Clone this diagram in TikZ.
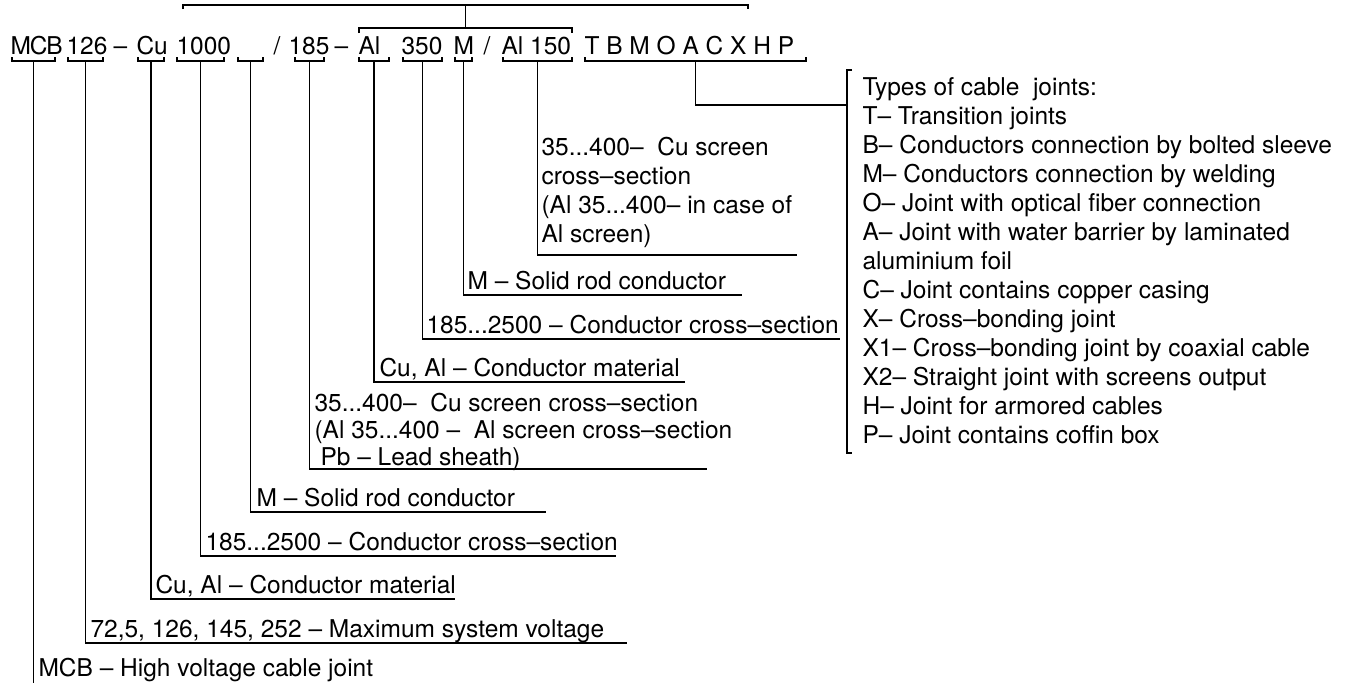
\documentclass[tikz,border=0pt]{standalone}
\usepackage{fontspec}
\setmainfont{TeX Gyre Heros}
\usepackage{tikz}

\begin{document}
\begin{tikzpicture}[x=1pt, y=-1pt, line width=1.1pt,
    every node/.style={inner sep=0pt, anchor=base west},
    txt/.style={font=\fontsize{24.5}{29}\selectfont}]
  \useasboundingbox (0,0) rectangle (1348,683);

  % the code line
  \node[txt] (kMCB) at (10,54) {M\kern-1.2pt C\kern-1.2pt B};
  \node[txt] (k126) at (66,54) {126};
  \node[txt] (kd1) at (113,54) {--};
  \node[txt] (kCu) at (136,54) {Cu};
  \node[txt] (k1000) at (176,54) {1000};
  \node[txt] (ks1) at (273,54) {/};
  \node[txt] (k185) at (288,54) {185};
  \node[txt] (kd2) at (334,54) {--};
  \node[txt] (kAl) at (358,54) {Al};
  \node[txt] (k350) at (401,54) {350};
  \node[txt] (kM) at (453,54) {M};
  \node[txt] (ks2) at (483,54) {/};
  \node[txt] (kAl150) at (501,54) {Al 150};
  \node[txt] (kTBM) at (584,54) {T B M O A C X H P};

  % brackets over the code
  \draw (183,9) -- (183,5) -- (748,5) -- (748,9);
  \draw (359,33) -- (359,28) -- (572,28) -- (572,33);
  \coordinate (bTop) at (465.5,5);
  \coordinate (bOver) at (465.5,28);
  \draw (bTop) -- (bOver);

  % brackets under the code
  \draw (12,57) -- (12,61) -- (55,61) -- (55,57);
  \coordinate (bMCB) at (33.5,61);
  \draw (68,57) -- (68,61) -- (103,61) -- (103,57);
  \coordinate (b126) at (85.5,61);
  \draw (138,57) -- (138,61) -- (164,61) -- (164,57);
  \coordinate (bCu) at (151,61);
  \draw (177,57) -- (177,61) -- (224,61) -- (224,57);
  \coordinate (b1000) at (200.5,61);
  \draw (238,57) -- (238,61) -- (263,61) -- (263,57);
  \coordinate (bBlank) at (250.5,61);
  \draw (295,57) -- (295,61) -- (324,61) -- (324,57);
  \coordinate (b185) at (309.5,61);
  \draw (359,57) -- (359,61) -- (389,61) -- (389,57);
  \coordinate (bAl) at (374,61);
  \draw (403,57) -- (403,61) -- (442,61) -- (442,57);
  \coordinate (b350) at (422.5,61);
  \draw (455,57) -- (455,61) -- (472,61) -- (472,57);
  \coordinate (bM) at (463.5,61);
  \draw (503,57) -- (503,61) -- (572,61) -- (572,57);
  \coordinate (bAl150) at (537.5,61);
  \draw (585,57) -- (585,61) -- (806,61) -- (806,57);
  \coordinate (bTBM) at (695.5,61);

  % explanations
  \node[txt] (eMCB) at (38,676) {MCB -- High voltage cable joint};
  \node[txt] (e126) at (90,637) {72,5, 126, 145, 252 -- Maximum system voltage};
  \node[txt] (eCu) at (155,593) {Cu, Al -- Conductor material};
  \node[txt] (e1000) at (205,550) {185...2500 -- Conductor cross--section};
  \node[txt] (eBlank) at (256,506) {M -- Solid rod conductor};
  \node[txt, align=left] (e185) at (314,465)
    {35...400--~ Cu screen cross--section\\[-2pt]
     (Al 35...400 --~ Al screen cross--section\\[-2pt]
     \hspace{6pt}Pb -- Lead sheath)};
  \node[txt] (eAl) at (379,376) {Cu, Al -- Conductor material};
  \node[txt] (e350) at (426,333) {185...2500 -- Conductor cross--section};
  \node[txt] (eM) at (467,289) {M -- Solid rod conductor};
  \node[txt, align=left] (eAl150) at (541,242)
    {35...400--~ Cu screen\\cross--section\\(Al 35...400-- in case of\\Al screen)};

  \coordinate (uMCB) at (33.5,683);
  \coordinate (u126) at (627,643);
  \coordinate (uCu) at (455,599);
  \coordinate (u1000) at (616,556);
  \coordinate (uBlank) at (546,512);
  \coordinate (u185) at (707,469);
  \coordinate (uAl) at (685,382);
  \coordinate (u350) at (840,339);
  \coordinate (uM) at (742,295);
  \coordinate (uAl150) at (797,255);

  \draw (bMCB) -- (uMCB);
  \draw (b126) |- (u126);
  \draw (bCu) |- (uCu);
  \draw (b1000) |- (u1000);
  \draw (bBlank) |- (uBlank);
  \draw (b185) |- (u185);
  \draw (bAl) |- (uAl);
  \draw (b350) |- (u350);
  \draw (bM) |- (uM);
  \draw (bAl150) |- (uAl150);

  % types of joints
  \draw (852,70) -- (847,70) -- (847,453) -- (852,453);
  \coordinate (lg) at (847,105);
  \draw (bTBM) |- (lg);
  \node[txt, align=left] (eTypes) at (862,443)
    {Types of cable~ joints:\\
     T-- Transition joints\\
     B-- Conductors connection by bolted sleeve\\
     M-- Conductors connection by welding\\
     O-- Joint with optical fiber connection\\
     A-- Joint with water barrier by laminated\\
     aluminium foil\\
     C-- Joint contains copper casing\\
     X-- Cross--bonding joint\\
     X1-- Cross--bonding joint by coaxial cable\\
     X2-- Straight joint with screens output\\
     H-- Joint for armored cables\\
     P-- Joint contains coffin box};
\end{tikzpicture}
\end{document}
